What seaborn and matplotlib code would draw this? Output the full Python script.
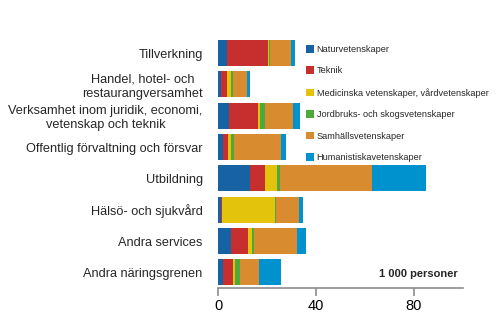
import matplotlib
matplotlib.use("Agg")
import matplotlib.pyplot as plt
import seaborn as sns
import pandas as pd
import numpy as np

categories = [
    "Tillverkning",
    "Handel, hotel- och\nrestaurangversamhet",
    "Verksamhet inom juridik, economi,\nvetenskap och teknik",
    "Offentlig förvaltning och försvar",
    "Utbildning",
    "Hälsö- och sjukvård",
    "Andra services",
    "Andra näringsgrenen",
]
series_names = [
    "Naturvetenskaper",
    "Teknik",
    "Medicinska vetenskaper, vårdvetenskaper",
    "Jordbruks- och skogsvetenskaper",
    "Samhällsvetenskaper",
    "Humanistiskavetenskaper",
]
naturvet = [3.7, 1.4, 4.5, 2.0, 13.1, 1.2, 5.3, 2.0]
teknik = [16.8, 2.3, 11.9, 2.0, 6.1, 0.4, 7.0, 4.1]
medicin = [0.4, 1.6, 0.8, 1.2, 4.9, 21.7, 1.6, 0.8]
jordbruk = [0.4, 0.8, 2.0, 1.2, 1.2, 0.4, 0.8, 2.0]
samhall = [8.6, 5.7, 11.5, 19.3, 37.4, 9.4, 17.6, 7.8]
humanist = [1.6, 1.2, 2.9, 2.0, 22.1, 1.6, 3.7, 9.0]
x_ticks = [0, 40, 80]

colors = ["#1762A2", "#C62F2D", "#E3C30C", "#4FA83C", "#D88B2F", "#0092CE"]

sns.set_theme(style="white")
plt.rcParams["font.family"] = ["Liberation Sans", "DejaVu Sans"]

values = [naturvet, teknik, medicin, jordbruk, samhall, humanist]
rows = []
for name, vals in zip(series_names, values):
    for c, v in zip(categories, vals):
        rows.append({"category": c, "series": name, "value": v})
df = pd.DataFrame(rows)

fig = plt.figure(figsize=(4.98, 3.31), dpi=100)
ax = fig.add_axes([218 / 498, 1 - 288 / 331, (463 - 218) / 498, (288 - 37.5) / 331])

left = np.zeros(len(categories))
for name, col in zip(series_names, colors):
    sub = df[df["series"] == name].set_index("category").loc[categories].reset_index()
    sns.barplot(data=sub, y="category", x="value", orient="h", color=col,
                saturation=1, left=left, width=0.83, ax=ax, label=name,
                linewidth=0, order=categories)
    left = left + sub["value"].to_numpy()

ax.set_xlim(0, 100)
ax.set_ylim(7.5, -0.5)
ax.set_xticks(x_ticks)
ax.set_xticklabels([str(t) for t in x_ticks], fontsize=10.5)
ax.set_xlabel("")
ax.set_ylabel("")
for s in ["top", "right", "left"]:
    ax.spines[s].set_visible(False)
ax.spines["bottom"].set_color("#8c8c8c")
ax.spines["bottom"].set_linewidth(1.2)
ax.tick_params(axis="x", direction="out", length=6, width=1.2, color="#8c8c8c",
               pad=2, labelcolor="black", bottom=True)
ax.tick_params(axis="y", length=0, pad=11, labelsize=9.2)
for lab in ax.get_yticklabels():
    lab.set_multialignment("center")

leg = ax.legend(loc="upper left", bbox_to_anchor=(0.345, 0.985), frameon=False,
                handlelength=0.9, handleheight=0.9, handletextpad=0.25,
                labelspacing=1.36, borderaxespad=0,
                prop={"family": ["Liberation Sans Narrow", "Liberation Sans"], "size": 6.6})

ax.text(0.98, 0.055, "1 000 personer", transform=ax.transAxes, ha="right",
        va="center", fontsize=8, fontweight="bold")

fig.savefig("out.png", dpi=100)
